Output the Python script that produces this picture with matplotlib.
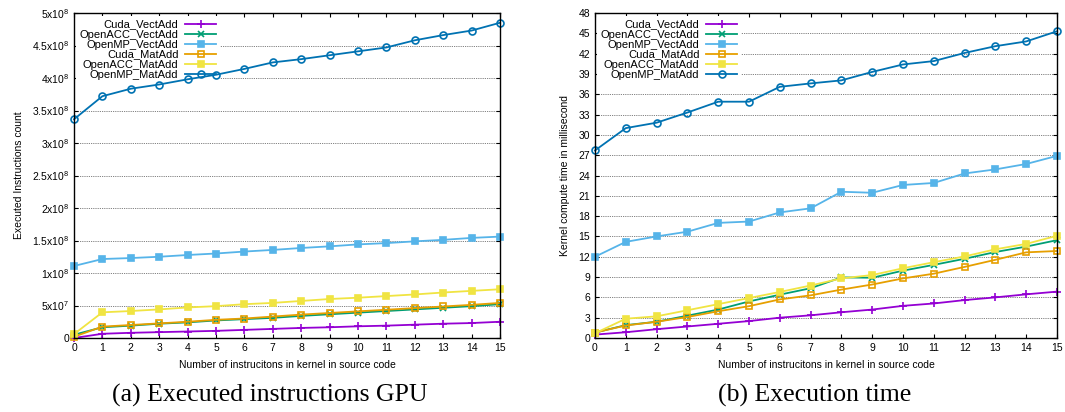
import matplotlib
matplotlib.use("Agg")
import matplotlib.pyplot as plt
import numpy as np

plt.rcParams['font.family'] = ['Liberation Sans', 'DejaVu Sans']
plt.rcParams['mathtext.fontset'] = 'custom'
plt.rcParams['mathtext.rm'] = 'Liberation Sans'
plt.rcParams['mathtext.it'] = 'Liberation Sans:italic'

x = list(range(16))
labels = ["Cuda_VectAdd", "OpenACC_VectAdd", "OpenMP_VectAdd",
          "Cuda_MatAdd", "OpenACC_MatAdd", "OpenMP_MatAdd"]

# (a) executed instructions (units of 1e8)
instr_cuda_vect = [0.0, 0.065, 0.08, 0.09, 0.10, 0.11, 0.125, 0.14, 0.155, 0.165, 0.18, 0.19, 0.205, 0.22, 0.23, 0.25]
instr_acc_vect = [0.05, 0.165, 0.19, 0.22, 0.24, 0.27, 0.29, 0.31, 0.34, 0.365, 0.39, 0.415, 0.44, 0.465, 0.49, 0.52]
instr_omp_vect = [1.108, 1.215, 1.23, 1.25, 1.277, 1.30, 1.33, 1.355, 1.385, 1.41, 1.44, 1.46, 1.487, 1.51, 1.54, 1.56]
instr_cuda_mat = [0.02, 0.175, 0.20, 0.225, 0.25, 0.28, 0.30, 0.33, 0.36, 0.385, 0.41, 0.435, 0.46, 0.485, 0.51, 0.54]
instr_acc_mat = [0.06, 0.395, 0.415, 0.44, 0.47, 0.49, 0.52, 0.54, 0.57, 0.60, 0.62, 0.645, 0.67, 0.70, 0.725, 0.75]
instr_omp_mat = [3.365, 3.72, 3.835, 3.90, 3.98, 4.05, 4.14, 4.24, 4.29, 4.35, 4.41, 4.47, 4.58, 4.66, 4.73, 4.85]

# (b) execution time (ms)
time_cuda_vect = [0.5, 0.85, 1.3, 1.7, 2.1, 2.5, 3.0, 3.35, 3.8, 4.2, 4.75, 5.1, 5.6, 6.0, 6.45, 6.85]
time_acc_vect = [0.8, 1.9, 2.4, 3.3, 4.2, 5.4, 6.4, 7.35, 8.95, 8.9, 9.95, 10.8, 11.7, 12.7, 13.5, 14.45]
time_omp_vect = [12.0, 14.2, 15.0, 15.7, 17.0, 17.2, 18.55, 19.15, 21.6, 21.45, 22.6, 22.9, 24.3, 24.9, 25.7, 26.9]
time_cuda_mat = [0.8, 1.85, 2.4, 3.1, 3.95, 4.7, 5.7, 6.3, 7.15, 7.9, 8.8, 9.5, 10.5, 11.55, 12.65, 12.85]
time_acc_mat = [0.7, 2.85, 3.2, 4.1, 5.0, 5.9, 6.8, 7.75, 8.8, 9.3, 10.3, 11.2, 12.05, 13.1, 13.9, 15.1]
time_omp_mat = [27.7, 31.0, 31.8, 33.3, 34.9, 34.9, 37.1, 37.6, 38.05, 39.3, 40.4, 40.9, 42.1, 43.1, 43.8, 45.3]

colors = ["#9400D3", "#009E73", "#56B4E9", "#E69F00", "#F0E442", "#0072B2"]
markers = ["+", "x", "s", "s", "s", "o"]
fills = ["full", "full", "full", "none", "full", "none"]
msizes = [6, 4.5, 3.8, 5, 4.8, 5]

fig = plt.figure(figsize=(10.65, 4.12), dpi=100)
axA = fig.add_axes([74/1065, 74/412, 426/1065, 325/412])
axB = fig.add_axes([595/1065, 74/412, 462/1065, 325/412])

def draw(ax, series, scale):
    for i, ys in enumerate(series):
        ax.plot(x, np.array(ys) * scale, color=colors[i], marker=markers[i],
                fillstyle=fills[i], markersize=msizes[i], markeredgewidth=1.2,
                lw=1.3, label=labels[i], zorder=3, clip_on=False)
    ax.set_xlim(0, 15)
    ax.set_xticks(x)
    ax.set_axisbelow(True)
    ax.grid(axis='y', linestyle=(0, (1, 1.2)), color='#555555', lw=0.6, zorder=0.5)
    ax.tick_params(direction='in', labelsize=7.5, top=True, right=True, length=3, width=0.8)
    for s in ax.spines.values():
        s.set_linewidth(1.0)
        s.set_zorder(4)
    leg = ax.legend(loc='upper left', bbox_to_anchor=(0.0, 0.997), markerfirst=False,
                    fontsize=8, handlelength=2.8, labelspacing=0.0, handletextpad=0.6,
                    borderpad=0.3, borderaxespad=0.2, frameon=True, fancybox=False,
                    edgecolor='none', facecolor='white', framealpha=1.0)
    leg.set_zorder(2)
    ax.set_xlabel("Number of instrucitons in kernel in source code", fontsize=7.5, labelpad=5)

draw(axA, [instr_cuda_vect, instr_acc_vect, instr_omp_vect, instr_cuda_mat, instr_acc_mat, instr_omp_mat], 1e8)
axA.set_ylim(0, 5e8)
yt = np.arange(0, 5.01e8, 0.5e8)
axA.set_yticks(yt)
def fmt(v):
    if v == 0:
        return "0"
    e = int(np.floor(np.log10(v)))
    m = v / 10**e
    ms = ("%g" % m)
    return r"%sx10$^{%d}$" % (ms, e)
axA.set_yticklabels([fmt(v) for v in yt])
axA.set_ylabel("Executed Instructions count", fontsize=7.5, labelpad=6)

draw(axB, [time_cuda_vect, time_acc_vect, time_omp_vect, time_cuda_mat, time_acc_mat, time_omp_mat], 1.0)
axB.set_ylim(0, 48)
axB.set_yticks(np.arange(0, 49, 3))
axB.set_ylabel("Kernel compute time in millisecond", fontsize=7.5, labelpad=6)

fig.text(270/1065, 1 - 395/412, "(a) Executed instructions GPU", family='Liberation Serif',
         fontsize=18.5, ha='center', va='center')
fig.text(815/1065, 1 - 395/412, "(b) Execution time", family='Liberation Serif',
         fontsize=18.5, ha='center', va='center')

fig.savefig("out.png", dpi=100)
